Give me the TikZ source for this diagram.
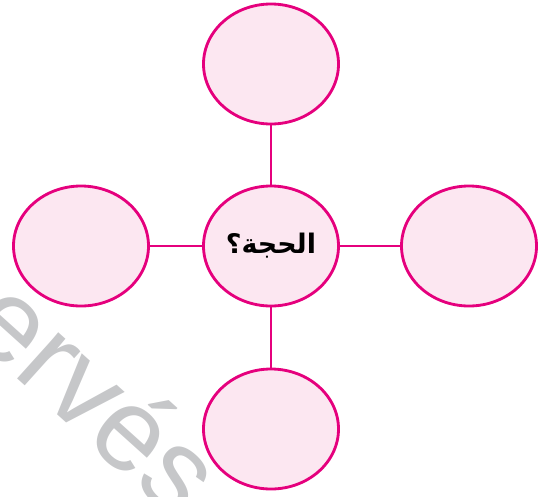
\documentclass[tikz,border=0pt]{standalone}
\usepackage{fontspec}
\usetikzlibrary{shapes.geometric}
\TeXXeTstate=1
\newfontfamily\arabicfont[Script=Arabic]{DejaVu Sans}
\newfontfamily\markfont{Liberation Sans}
\definecolor{rim}{HTML}{E5007D}
\definecolor{blush}{HTML}{FCE7F1}
\definecolor{stamp}{HTML}{C6C7C9}
\tikzset{
  bubble/.style={ellipse,draw=rim,fill=blush,line width=0.085cm,
    minimum width=4.05cm,minimum height=3.6cm,inner sep=0pt},
  spoke/.style={draw=rim,line width=0.08cm}
}
\begin{document}
\begin{tikzpicture}[x=0.03cm,y=-0.03cm]
\useasboundingbox (0,0) rectangle (543,496);
\begin{scope}
\clip (0,0) rectangle (543,496);
% watermark
\node[stamp,rotate=-42,anchor=base east,inner sep=0pt,font=\markfont\fontsize{100}{100}\selectfont] (mark) at (176,522) {réservés};
\end{scope}

\node[bubble] (C) at (271,246) {\arabicfont\bfseries\fontsize{23}{26}\selectfont\beginR الحجة؟\endR};
\node[bubble] (N) at (271,64) {};
\node[bubble] (S) at (271,429) {};
\node[bubble] (W) at (81,246) {};
\node[bubble] (E) at (469,246) {};

\draw[spoke] (C) -- (N);
\draw[spoke] (C) -- (S);
\draw[spoke] (C) -- (W);
\draw[spoke] (C) -- (E);
\end{tikzpicture}
\end{document}
